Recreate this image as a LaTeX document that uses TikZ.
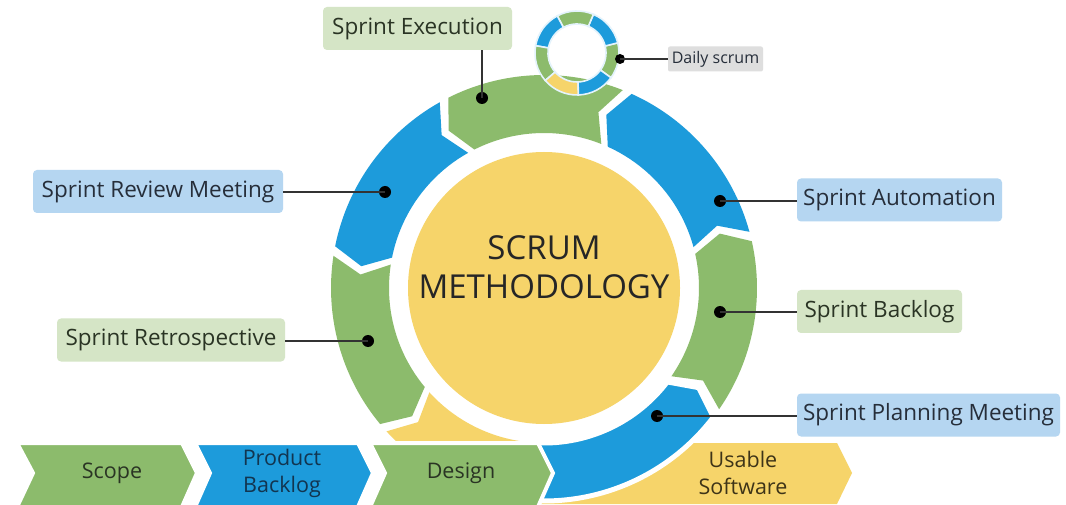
\documentclass[tikz,border=0pt]{standalone}
\usepackage{fontspec}
\setmainfont{Open Sans}
\definecolor{cgreen}{HTML}{8CBB6C}
\definecolor{cblue}{HTML}{1D9BDB}
\definecolor{cyellow}{HTML}{F6D46A}
\definecolor{lblue}{HTML}{B5D6F1}
\definecolor{lgreen}{HTML}{D5E5C6}
\definecolor{lgray}{HTML}{DEDEDE}
\definecolor{txt}{HTML}{262E3A}
\definecolor{txtg}{HTML}{2A3424}
\definecolor{txty}{HTML}{3E3418}
\definecolor{txtb}{HTML}{123550}
\definecolor{pale}{HTML}{E4F3FC}
\def\sgh{1.3}
\def\sgd{4.5}
\def\rin{155pt}
\def\rmid{184pt}
\def\rout{213pt}
\newcommand\ringseg[4]{%
  \path[fill=#1,#4] ({#2+\sgh}:\rin) -- ({#2+\sgh+\sgd}:\rmid) -- ({#2+\sgh}:\rout)
    arc[start angle={#2+\sgh},end angle={#3-\sgh},radius=\rout]
    -- ({#3-\sgh+\sgd}:\rmid) -- ({#3-\sgh}:\rin)
    arc[start angle={#3-\sgh},end angle={#2+\sgh},radius=\rin] -- cycle;}
\newcommand\miniseg[3]{%
  \path[fill=#1,draw=pale,line width=1.6pt] (#2:29pt)
    arc[start angle=#2,end angle=#3,radius=29pt] -- (#3:42pt)
    arc[start angle=#3,end angle=#2,radius=42pt] -- cycle;}
\tikzset{
  lbl/.style={rounded corners=4pt,minimum height=43pt,inner sep=0pt,font=\fontsize{22.5}{26}\selectfont},
  bl/.style={lbl,fill=lblue,text=txt},
  gl/.style={lbl,fill=lgreen,text=txtg},
  chev/.style={draw=white,line width=4pt,line join=miter},
  ctext/.style={font=\fontsize{21.5}{27}\selectfont,align=center,inner sep=0pt},
  dot/.style={circle,fill=black,inner sep=0pt,minimum size=12pt},
  conn/.style={draw=black!80,line width=1.8pt}
}
\begin{document}
\begin{tikzpicture}[x=1pt,y=1pt]
\useasboundingbox (0,0) rectangle (1066,504);
\fill[white] (0,0) rectangle (1066,504);
% usable software chevron (behind ring)
\fill[cyellow] (540,61) -- (837,61) -- (852,31) -- (837,0) -- (540,0) -- (555,31) -- cycle;
\node[ctext,text=txty] (usable) at (743,31) {Usable\\Software};
% ring
\begin{scope}[shift={(544,216)}]
  \ringseg{cgreen}{-36}{14}{}
  \ringseg{cblue}{14}{67}{}
  \ringseg{cgreen}{67}{118}{}
  \ringseg{cblue}{118}{170}{}
  \ringseg{cgreen}{170}{221}{}
  \ringseg{cyellow}{221}{272}{}
  \ringseg{cblue}{262}{324}{draw=white,line width=5pt}
  \fill[cyellow] (0,0) circle[radius=136pt];
\end{scope}
\node[font=\fontsize{33}{39}\selectfont,align=center,text=black!85] (title) at (544,236.5) {SCRUM\\METHODOLOGY};
% bottom row
\path[chev,fill=cgreen] (17,61) -- (182,61) -- (197,31) -- (182,-3) -- (17,-3) -- (33,31) -- cycle;
\path[chev,fill=cblue] (195,61) -- (358,61) -- (373,31) -- (358,-3) -- (195,-3) -- (210,31) -- cycle;
\path[chev,fill=cgreen] (370,61) -- (538,61) -- (553,31) -- (538,-3) -- (370,-3) -- (385,31) -- cycle;
\node[ctext,text=txtg] (scope) at (112,31) {Scope};
\node[ctext,text=txtb] (pbl) at (282,31) {Product\\Backlog};
\node[ctext,text=txtg] (design) at (461,31) {Design};
% mini ring (daily scrum)
\begin{scope}[shift={(577,451)}]
  \miniseg{cgreen}{-36}{14}
  \miniseg{cblue}{14}{67}
  \miniseg{cgreen}{67}{118}
  \miniseg{cblue}{118}{170}
  \miniseg{cgreen}{170}{221}
  \miniseg{cyellow}{221}{272}
  \miniseg{cblue}{272}{324}
\end{scope}
% labels
\node[gl,minimum width=189pt] (exec) at (417.5,475.5) {Sprint Execution};
\node[rounded corners=2pt,fill=lgray,text=txt,minimum width=95pt,minimum height=25pt,inner sep=0pt,font=\fontsize{16}{19}\selectfont] (daily) at (715.5,445) {Daily scrum};
\node[bl,minimum width=250pt] (review) at (158,312.5) {Sprint Review Meeting};
\node[gl,minimum width=228pt] (retro) at (171,164) {Sprint Retrospective};
\node[bl,minimum width=205pt] (auto) at (899.5,304) {Sprint Automation};
\node[gl,minimum width=165pt] (sbl) at (879.5,192.5) {Sprint Backlog};
\node[bl,minimum width=263pt] (plan) at (928.5,89) {Sprint Planning Meeting};
% dots
\node[dot] (dexec) at (482,406) {};
\node[dot,minimum size=10pt] (ddaily) at (620,445) {};
\node[dot] (dreview) at (385,312) {};
\node[dot] (dretro) at (368,163) {};
\node[dot] (dauto) at (720,303) {};
\node[dot] (dsbl) at (720,192) {};
\node[dot] (dplan) at (657,88) {};
% connectors
\draw[conn] (dexec.center) -- (dexec.center |- exec.south);
\draw[conn] (ddaily.center) -- (ddaily.center -| daily.west);
\draw[conn] (dreview.center) -- (dreview.center -| review.east);
\draw[conn] (dretro.center) -- (dretro.center -| retro.east);
\draw[conn] (dauto.center) -- (dauto.center -| auto.west);
\draw[conn] (dsbl.center) -- (dsbl.center -| sbl.west);
\draw[conn] (dplan.center) -- (dplan.center -| plan.west);
\end{tikzpicture}
\end{document}
